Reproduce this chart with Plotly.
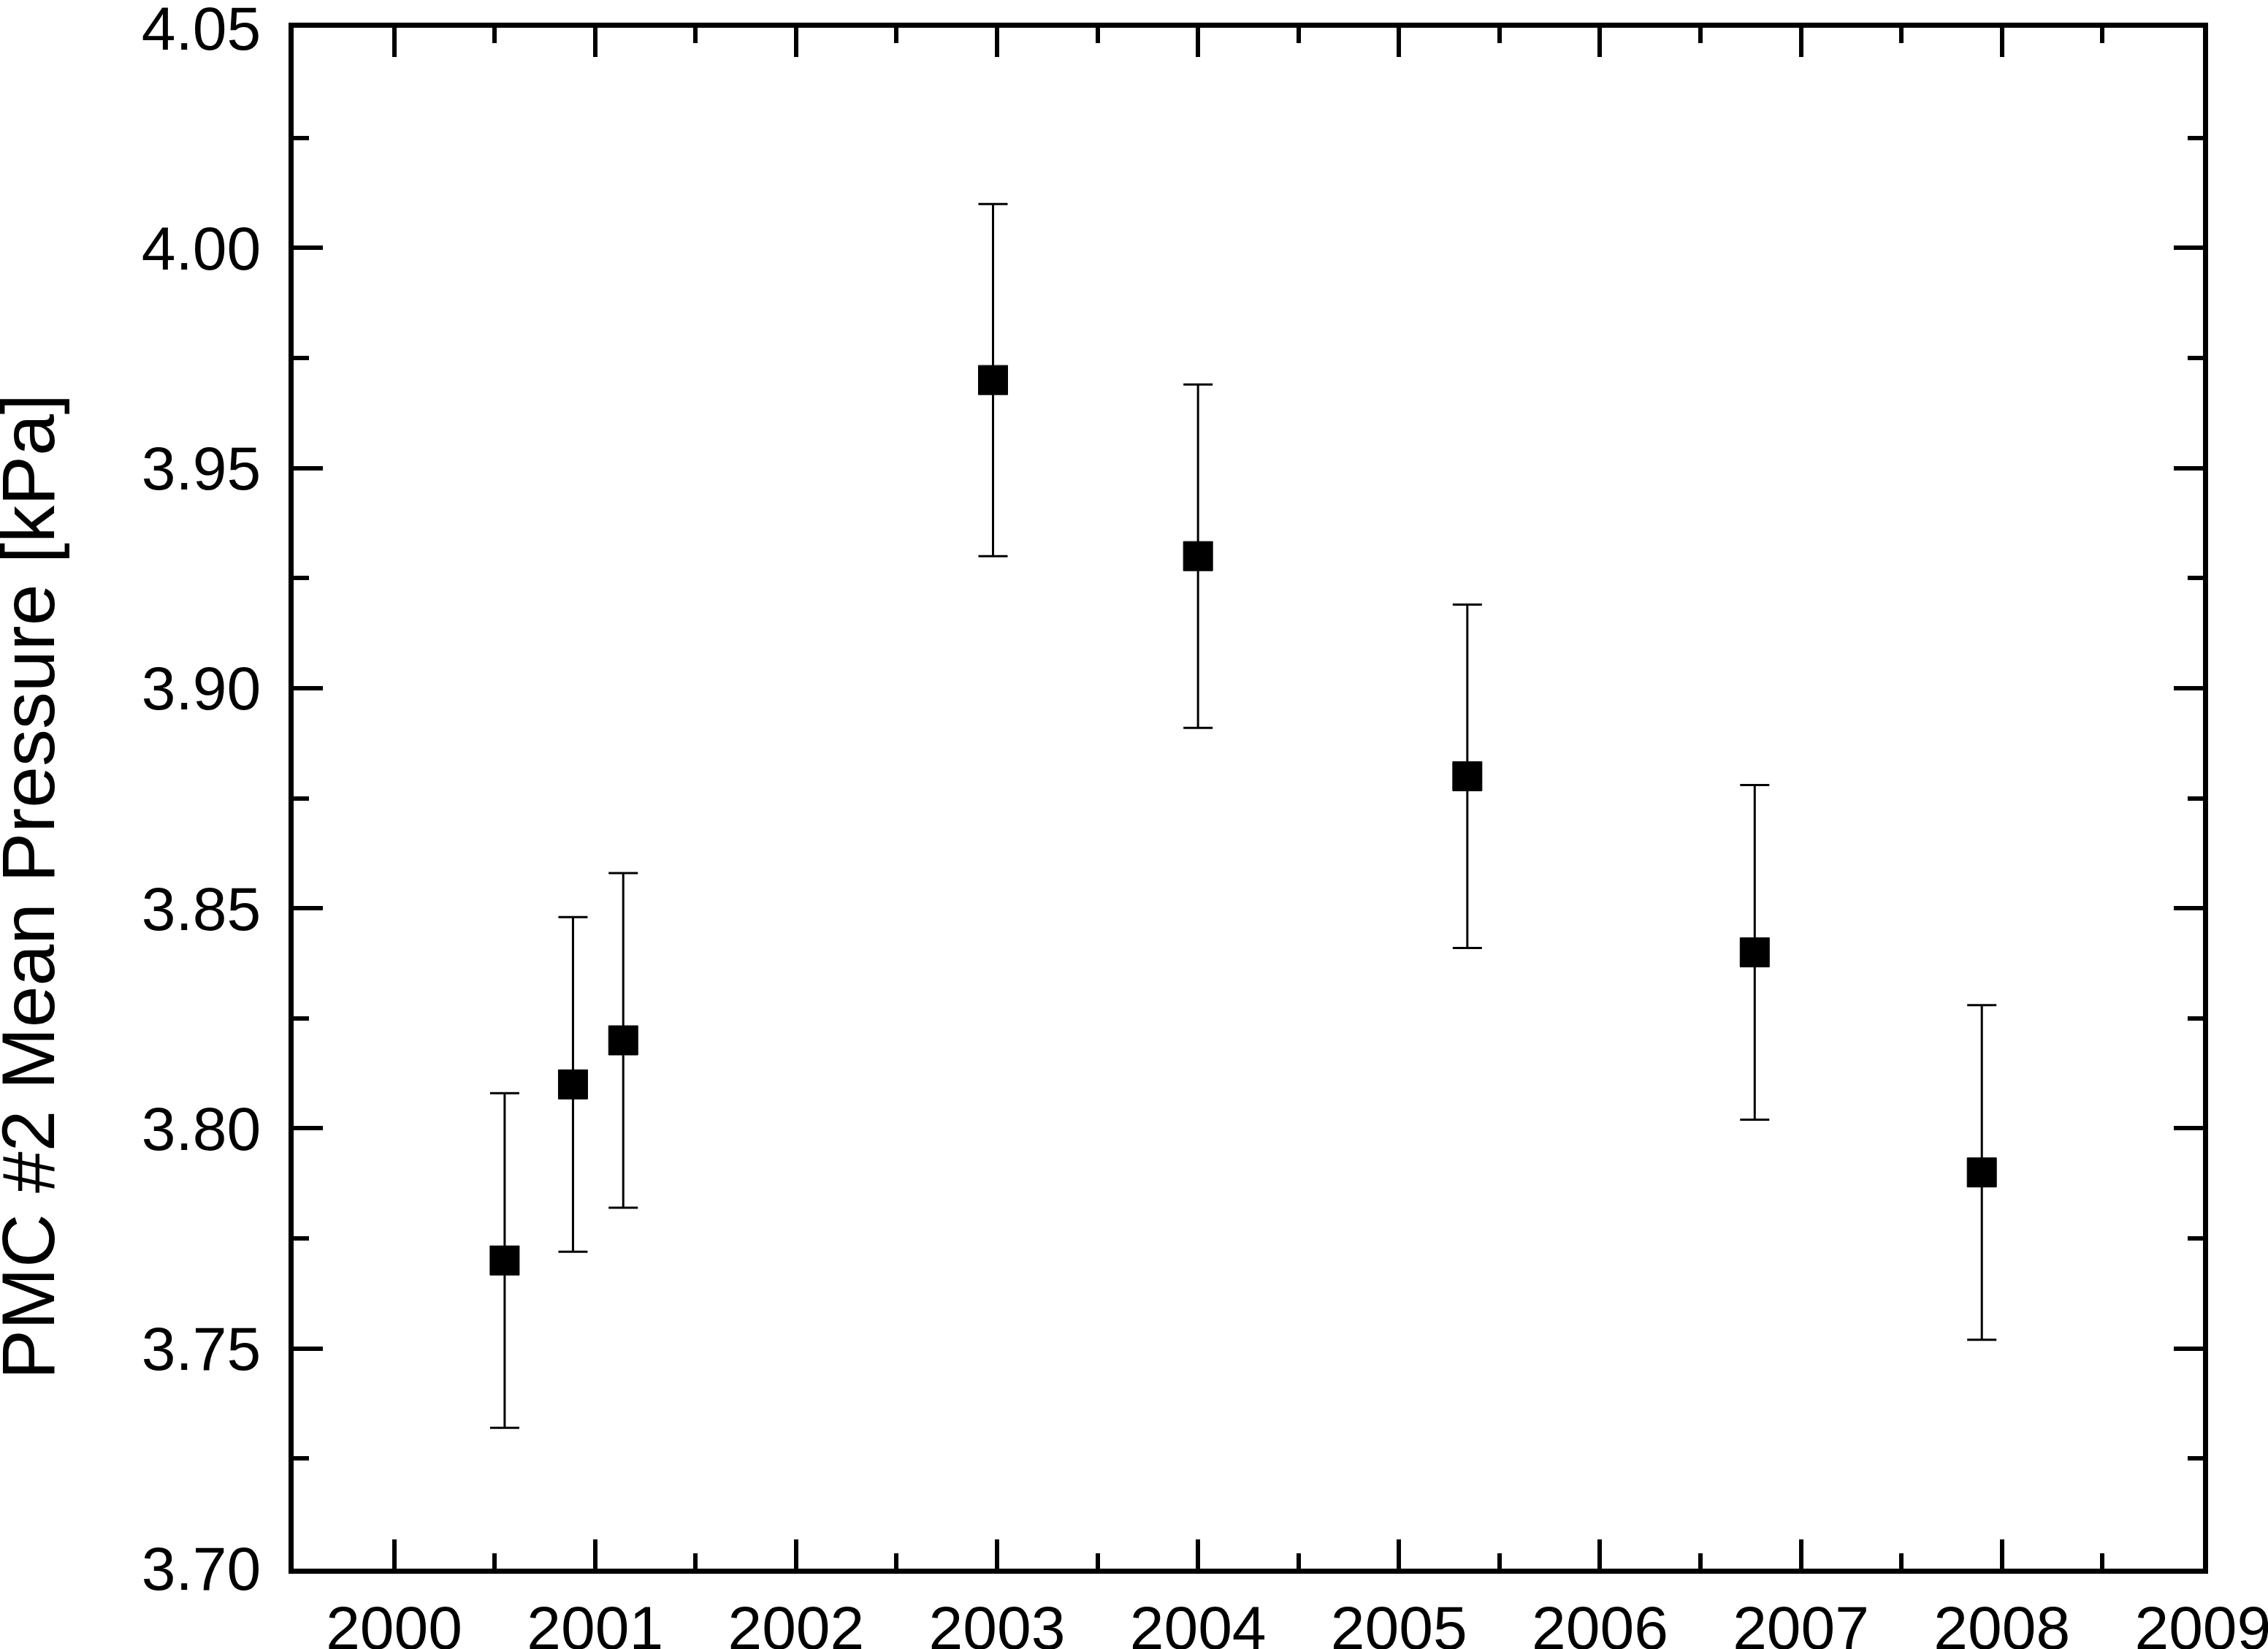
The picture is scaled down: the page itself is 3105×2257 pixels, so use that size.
import plotly.graph_objects as go

years = [2000.55, 2000.89, 2001.14, 2002.98, 2004.00, 2005.34, 2006.77, 2007.90]
pressure = [3.77, 3.81, 3.82, 3.97, 3.93, 3.88, 3.84, 3.79]
errors = [0.038, 0.038, 0.038, 0.040, 0.039, 0.039, 0.038, 0.038]

x_ticks = [2000, 2001, 2002, 2003, 2004, 2005, 2006, 2007, 2008, 2009]
y_ticks = [3.70, 3.75, 3.80, 3.85, 3.90, 3.95, 4.00, 4.05]

y_title = "PMC #2 Mean Pressure [kPa]"

W, H = 3105, 2257
L, R, T, B = 402, 89, 38, 110

fig = go.Figure()
fig.add_trace(go.Scatter(
    x=years, y=pressure, mode="markers",
    marker=dict(symbol="square", size=40, color="black",
                line=dict(color="black", width=1)),
    error_y=dict(type="data", array=errors, visible=True,
                 color="black", thickness=3, width=20),
    showlegend=False,
))

axis_common = dict(
    showline=True, linecolor="black", linewidth=7, mirror="allticks",
    ticks="inside", ticklen=40, tickwidth=6, tickcolor="black",
    showgrid=False, zeroline=False, automargin=False,
    ticklabeloverflow="allow",
    tickfont=dict(family="Liberation Sans, Arial, sans-serif", size=84, color="black"),
)

fig.update_xaxes(
    range=[1999.5, 2009.0005], tickmode="array", tickvals=x_ticks,
    ticktext=[str(v) for v in x_ticks],
    minor=dict(ticks="inside", ticklen=21, tickwidth=6, tickcolor="black", dtick=0.5, tick0=2000.5, showgrid=False),
    ticklabelstandoff=2,
    **axis_common,
)
fig.update_yaxes(
    range=[3.70, 4.05002], tickmode="array", tickvals=y_ticks,
    ticktext=[f"{v:.2f}" for v in y_ticks],
    minor=dict(ticks="inside", ticklen=21, tickwidth=6, tickcolor="black", dtick=0.025, tick0=3.725, showgrid=False),
    ticklabelstandoff=21,
    **axis_common,
)

pw = W - L - R
ph = H - T - B
fig.add_annotation(
    text=y_title, textangle=-90, showarrow=False,
    xref="paper", yref="paper",
    x=(39 - L) / pw, y=(H - B - 1214) / ph,
    xanchor="center", yanchor="middle",
    font=dict(family="Liberation Sans, Arial, sans-serif", size=102, color="black"),
)

fig.update_layout(
    width=W, height=H,
    margin=dict(l=L, r=R, t=T, b=B, pad=0, autoexpand=False),
    paper_bgcolor="white", plot_bgcolor="white",
)

fig.write_html(
    "out.html",
    config={"displayModeBar": False},
    post_script="document.body.style.margin='0';document.body.style.overflow='hidden';",
)
